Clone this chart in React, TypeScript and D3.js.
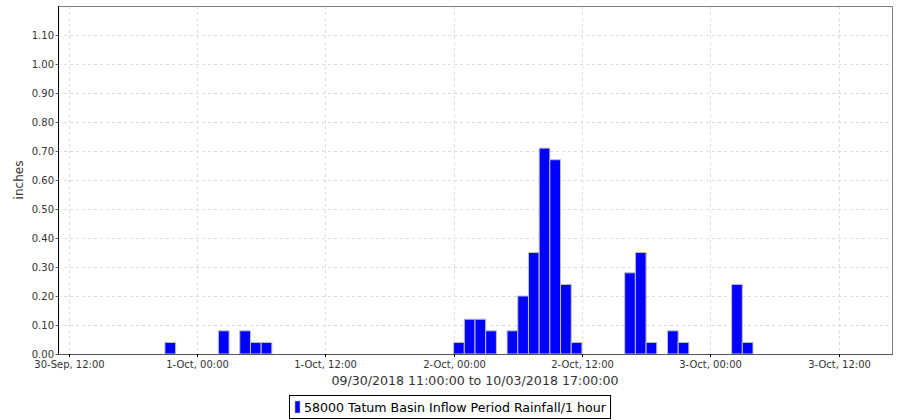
import React from "react";
import * as d3 from "d3";

const startTimes: string[] = [
  "2018-09-30T21:00", "2018-10-01T02:00", "2018-10-01T04:00", "2018-10-01T05:00", "2018-10-01T06:00",
  "2018-10-02T00:00", "2018-10-02T01:00", "2018-10-02T02:00", "2018-10-02T03:00",
  "2018-10-02T05:00", "2018-10-02T06:00", "2018-10-02T07:00", "2018-10-02T08:00", "2018-10-02T09:00",
  "2018-10-02T10:00", "2018-10-02T11:00",
  "2018-10-02T16:00", "2018-10-02T17:00", "2018-10-02T18:00",
  "2018-10-02T20:00", "2018-10-02T21:00",
  "2018-10-03T02:00", "2018-10-03T03:00",
];
const rainfall: number[] = [
  0.04, 0.08, 0.08, 0.04, 0.04,
  0.04, 0.12, 0.12, 0.08,
  0.08, 0.2, 0.35, 0.71, 0.67,
  0.24, 0.04,
  0.28, 0.35, 0.04,
  0.08, 0.04,
  0.24, 0.04,
];
const yTicks: number[] = [0, 0.1, 0.2, 0.3, 0.4, 0.5, 0.6, 0.7, 0.8, 0.9, 1.0, 1.1];
const xTickTimes: string[] = [
  "2018-09-30T12:00", "2018-10-01T00:00", "2018-10-01T12:00",
  "2018-10-02T00:00", "2018-10-02T12:00", "2018-10-03T00:00", "2018-10-03T12:00",
];
const domainStart = "2018-09-30T11:00";
const domainEnd = "2018-10-03T17:00";
const yLabel = "inches";
const subtitle = "09/30/2018 11:00:00 to 10/03/2018 17:00:00";
const legendLabel = "58000 Tatum Basin Inflow Period Rainfall/1 hour";

const parse = (s: string) => new Date(s + ":00");

export default function App() {
  const W = 900, H = 420;
  const left = 58, right = 892, top = 6, bottom = 354;
  const x = d3.scaleTime().domain([parse(domainStart), parse(domainEnd)]).range([left, right]);
  const y = d3.scaleLinear().domain([0, 1.2]).range([bottom, top]);
  const fmt = d3.timeFormat("%-d-%b, %H:%M");
  const font = "'DejaVu Sans', sans-serif";
  const bars = startTimes.map((t, i) => {
    const s = parse(t);
    const e = d3.timeHour.offset(s, 1);
    return { x0: x(s), x1: x(e), v: rainfall[i] };
  });
  return (
    <svg width={W} height={H} style={{ position: "absolute", left: 0, top: 0, background: "#fff" }}>
      <rect x={0} y={0} width={W} height={H} fill="#fff" />
      {/* grid */}
      {yTicks.map((t) => (
        <line key={"gy" + t} x1={left} x2={right} y1={Math.round(y(t)) + 0.5} y2={Math.round(y(t)) + 0.5}
          stroke="#dcdcdc" strokeDasharray="3,3" />
      ))}
      {xTickTimes.map((t) => (
        <line key={"gx" + t} x1={Math.round(x(parse(t))) + 0.5} x2={Math.round(x(parse(t))) + 0.5} y1={top} y2={bottom}
          stroke="#dcdcdc" strokeDasharray="3,3" />
      ))}
      {/* bars */}
      {bars.map((b, i) => (
        <rect key={i} x={b.x0} y={y(b.v)} width={b.x1 - b.x0} height={bottom - y(b.v)}
          fill="#0000ff" stroke="#c0c0c0" strokeWidth={1} />
      ))}
      {/* border */}
      <rect x={left + 0.5} y={top + 0.5} width={right - left} height={bottom - top} fill="none" stroke="#808080" strokeWidth={1} />
      <line x1={left + 0.5} x2={left + 0.5} y1={top} y2={bottom + 0.5} stroke="#000" />
      <line x1={left} x2={right + 0.5} y1={bottom + 0.5} y2={bottom + 0.5} stroke="#555" />
      {/* y ticks */}
      {yTicks.map((t) => (
        <g key={"ty" + t}>
          <line x1={left - 2.5} x2={left} y1={Math.round(y(t)) + 0.5} y2={Math.round(y(t)) + 0.5} stroke="#555" />
          <text x={left - 4} y={y(t)} dy="0.35em" textAnchor="end" fontFamily={font} fontSize={10} fill="#333">
            {t.toFixed(2)}
          </text>
        </g>
      ))}
      {/* x ticks */}
      {xTickTimes.map((t) => {
        const px = Math.round(x(parse(t))) + 0.5;
        return (
          <g key={"tx" + t}>
            <line x1={px} x2={px} y1={bottom} y2={bottom + 3} stroke="#000" />
            <text x={px} y={bottom + 14} textAnchor="middle" fontFamily={font} fontSize={10} fill="#333">
              {fmt(parse(t))}
            </text>
          </g>
        );
      })}
      <text x={0} y={0} transform={`translate(23,${(top + bottom) / 2}) rotate(-90)`} textAnchor="middle"
        fontFamily={font} fontSize={12} fill="#333">{yLabel}</text>
      <text x={(left + right) / 2} y={385} textAnchor="middle" fontFamily={font} fontSize={12.6} fill="#333">{subtitle}</text>
      {/* legend */}
      <rect x={289.5} y={395.5} width={321} height={23} fill="#fff" stroke="#000" />
      <rect x={295} y={401} width={5} height={12} fill="#0000ff" stroke="#c0c0c0" strokeWidth={0.5} />
      <text x={304} y={412} fontFamily={font} fontSize={12.6} fill="#000">{legendLabel}</text>
    </svg>
  );
}
